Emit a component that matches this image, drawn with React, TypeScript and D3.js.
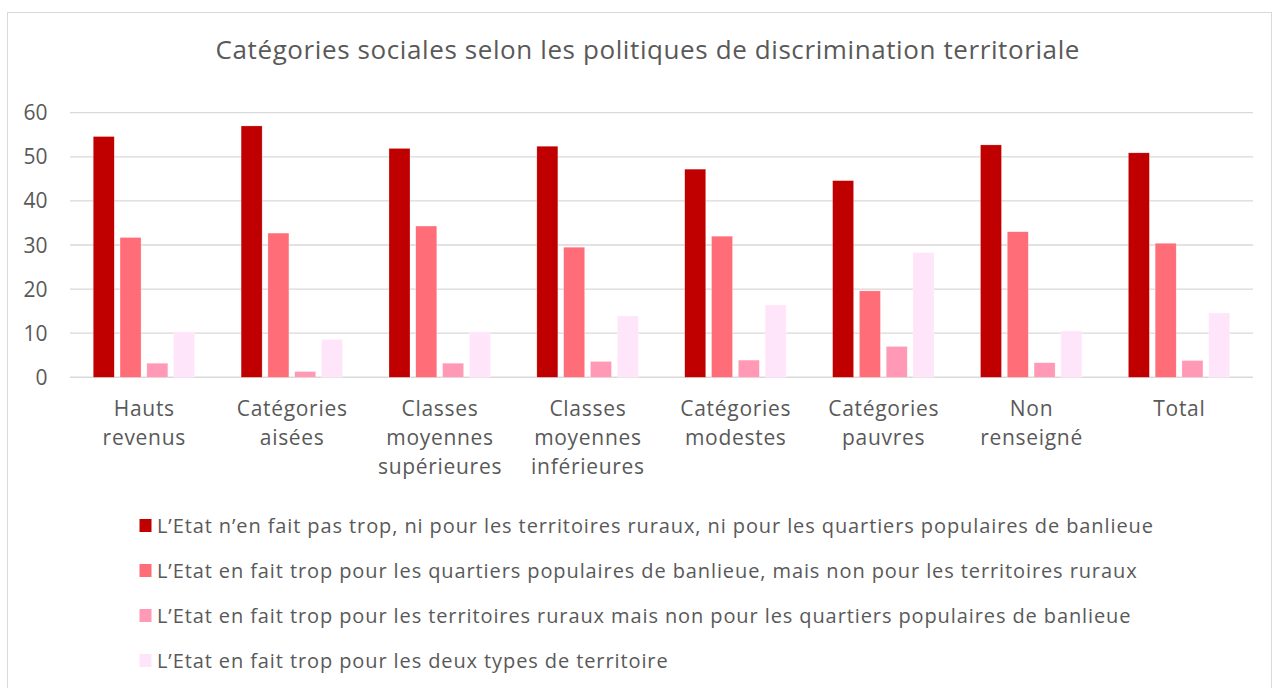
import React from "react";
import * as d3 from "d3";

const categories: string[][] = [
  ["Hauts", "revenus"],
  ["Catégories", "aisées"],
  ["Classes", "moyennes", "supérieures"],
  ["Classes", "moyennes", "inférieures"],
  ["Catégories", "modestes"],
  ["Catégories", "pauvres"],
  ["Non", "renseigné"],
  ["Total"],
];

const seriesNames = [
  "L’Etat n’en fait pas trop, ni pour les territoires ruraux, ni pour les quartiers populaires de banlieue",
  "L’Etat en fait trop pour les quartiers populaires de banlieue, mais non pour les territoires ruraux",
  "L’Etat en fait trop pour les territoires ruraux mais non pour les quartiers populaires de banlieue",
  "L’Etat en fait trop pour les deux types de territoire",
];

const seriesA = [54.6, 57.0, 51.9, 52.4, 47.2, 44.6, 52.7, 50.9];
const seriesB = [31.7, 32.7, 34.3, 29.5, 32.0, 19.6, 33.0, 30.4];
const seriesC = [3.2, 1.3, 3.2, 3.6, 3.9, 7.0, 3.3, 3.8];
const seriesD = [10.3, 8.6, 10.3, 13.9, 16.4, 28.3, 10.5, 14.6];

const yTicks = [0, 10, 20, 30, 40, 50, 60];
const colors = ["#C00000", "#FF6D79", "#FF99B5", "#FFE5FA"];

const title = "Catégories sociales selon les politiques de discrimination territoriale";

export default function App() {
  const W = 1274;
  const H = 688;
  const left = 70;
  const right = 1253;
  const top = 112.7;
  const bottom = 377.3;
  const font = "'Open Sans', sans-serif";
  const textColor = "#595959";

  const allSeries = [seriesA, seriesB, seriesC, seriesD];
  const catIdx = categories.map((_, i) => String(i));
  const x0 = d3.scaleBand<string>().domain(catIdx).range([left, right]).padding(0);
  const x1 = d3
    .scaleBand<string>()
    .domain(["0", "1", "2", "3"])
    .range([-50.7, 50.7])
    .paddingInner(0.216)
    .paddingOuter(0);
  const y = d3.scaleLinear().domain([0, 60]).range([bottom, top]);

  return (
    <svg
      width={W}
      height={H}
      style={{ position: "absolute", left: 0, top: 0, background: "#fff" }}
    >
      <rect x={7.5} y={12.5} width={1264} height={700} fill="#fff" stroke="#d9d9d9" strokeWidth={1} />
      <text
        x={647.8}
        y={59}
        textAnchor="middle"
        fontFamily={font}
        fontSize={26}
        letterSpacing={0.6}
        fill={textColor}
      >
        {title}
      </text>
      {yTicks.map((t) => (
        <g key={t}>
          <line
            x1={left}
            x2={right}
            y1={y(t)}
            y2={y(t)}
            stroke="#d9d9d9"
            strokeWidth={t === 0 ? 1.5 : 1.3}
          />
          <text
            x={47.5}
            y={y(t) + 7.5}
            textAnchor="end"
            fontFamily={font}
            fontSize={21}
            fill={textColor}
          >
            {t}
          </text>
        </g>
      ))}
      {categories.map((cat, i) => {
        const cx = (x0(String(i)) as number) + x0.bandwidth() / 2;
        return (
          <g key={i}>
            {allSeries.map((s, j) => (
              <rect
                key={j}
                x={cx + (x1(String(j)) as number)}
                y={y(s[i])}
                width={x1.bandwidth()}
                height={y(0) - y(s[i])}
                fill={colors[j]}
                stroke="#ffffff"
                strokeOpacity={0.5}
                strokeWidth={0.5}
              />
            ))}
            {cat.map((line, k) => (
              <text
                key={k}
                x={cx + 0.35}
                y={415.5 + k * 29}
                textAnchor="middle"
                fontFamily={font}
                fontSize={21}
                letterSpacing={0.7}
                fill={textColor}
              >
                {line}
              </text>
            ))}
          </g>
        );
      })}
      {seriesNames.map((name, j) => (
        <g key={j}>
          <rect x={139.5} y={519 + j * 45} width={12} height={13} fill={colors[j]} />
          <text
            x={157}
            y={532.5 + j * 45}
            fontFamily={font}
            fontSize={20}
            letterSpacing={0.9}
            fill={textColor}
          >
            {name}
          </text>
        </g>
      ))}
    </svg>
  );
}
